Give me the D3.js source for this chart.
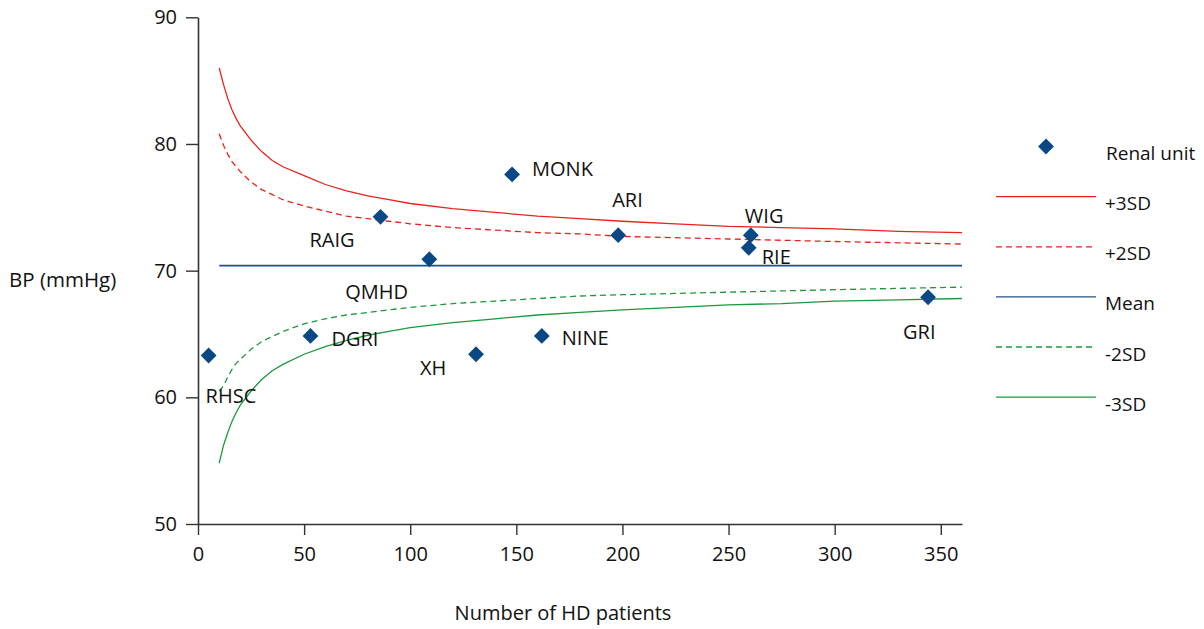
<!DOCTYPE html>
<html><head><meta charset="utf-8">
<script src="https://cdn.jsdelivr.net/npm/d3@7"></script>
<style>
body{margin:0;background:#fff;}
svg{display:block;font-family:"Open Sans",sans-serif;}
</style></head><body>
<svg id="c" width="1204" height="629"></svg>
<script>
// ---- data ----
const units = ["RHSC","DGRI","RAIG","QMHD","XH","MONK","NINE","ARI","WIG","RIE","GRI"];
const patients = [5, 53, 86, 109, 131, 148, 162, 198, 260.5, 259.5, 344];
const bp = [63.3, 64.85, 74.25, 70.9, 63.4, 77.6, 64.85, 72.8, 72.8, 71.8, 67.9];
const meanBP = 70.4;
const nGrid = [10,12,14,16,18,20,25,30,35,40,50,60,70,80,90,100,120,140,160,180,200,225,250,275,300,330,360];
const plus3 = [86.0,84.7,83.6,82.7,82.0,81.4,80.3,79.4,78.7,78.2,77.5,76.8,76.3,75.9,75.6,75.3,74.9,74.6,74.3,74.1,73.9,73.7,73.5,73.4,73.3,73.1,73.0];
const plus2 = [80.8,79.9,79.2,78.6,78.2,77.8,77.0,76.4,76.0,75.6,75.1,74.7,74.3,74.1,73.9,73.7,73.4,73.2,73.0,72.9,72.7,72.6,72.5,72.4,72.3,72.2,72.1];
const minus2 = [60.5,60.9,61.6,62.2,62.7,63.0,63.8,64.4,64.8,65.2,65.8,66.2,66.5,66.7,66.9,67.1,67.4,67.6,67.8,68.0,68.1,68.2,68.3,68.4,68.5,68.6,68.7];
const minus3 = [54.8,56.2,57.2,58.1,58.8,59.4,60.5,61.4,62.1,62.6,63.4,64.0,64.5,64.9,65.2,65.5,65.9,66.2,66.5,66.7,66.9,67.1,67.3,67.4,67.6,67.7,67.8];
const xTicks = [0,50,100,150,200,250,300,350];
const yTicks = [50,60,70,80,90];
const legendLabels = ["Renal unit","+3SD","+2SD","Mean","-2SD","-3SD"];

// ---- layout (not data) ----
const labelOffsets = [[-3,47],[21,10],[-71,30],[-84,40],[-56,21],[20,2],[20,9],[-6,-28],[-6,-12],[13,16],[-25,42]];
const RED="#e8231b", GREEN="#1a9a3c", BLUE="#24518a", DIAM="#0a4785", AX="#333";

const svg = d3.select("#c");
const x = d3.scaleLinear().domain([0,360]).range([198,962]);
const y = d3.scaleLinear().domain([50,90]).range([524,17.3]);

// axes
const xa = svg.append("g").attr("transform","translate(0,524)")
  .call(d3.axisBottom(x).tickValues(xTicks).tickSize(11).tickPadding(12).tickSizeOuter(0));
const ya = svg.append("g").attr("transform","translate(198,0)")
  .call(d3.axisLeft(y).tickValues(yTicks).tickSize(12).tickPadding(9).tickSizeOuter(0));
[xa,ya].forEach(a=>{
  a.select(".domain").attr("stroke",AX).attr("stroke-width",1.6);
  a.selectAll(".tick line").attr("stroke",AX).attr("stroke-width",1.4);
  a.selectAll(".tick text").attr("fill","#111").style("font-size","20px").style("font-family","'Open Sans',sans-serif");
});

// axis titles
svg.append("text").attr("x",563).attr("y",620).attr("text-anchor","middle")
  .style("font-size","20px").attr("fill","#111").text("Number of HD patients");
svg.append("text").attr("x",9).attr("y",287)
  .style("font-size","20.5px").attr("fill","#111").text("BP (mmHg)");

// lines
const line = d3.line().x((d,i)=>x(nGrid[i])).y(d=>y(d));
function drawLine(arr,color,dash){
  svg.append("path").datum(arr).attr("d",line).attr("fill","none")
    .attr("stroke",color).attr("stroke-width",1.3).attr("stroke-dasharray",dash||null);
}
drawLine(plus3,RED);
drawLine(plus2,RED,"6,4");
drawLine(minus2,GREEN,"6,4");
drawLine(minus3,GREEN);
svg.append("line").attr("x1",x(nGrid[0])).attr("x2",x(nGrid[nGrid.length-1]))
  .attr("y1",y(meanBP)).attr("y2",y(meanBP)).attr("stroke",BLUE).attr("stroke-width",1.6);

// points
const sym = d3.symbol().type(d3.symbolSquare).size(125);
units.forEach((u,i)=>{
  const px=x(patients[i]), py=y(bp[i]);
  svg.append("path").attr("d",sym()).attr("fill",DIAM)
    .attr("transform",`translate(${px},${py}) rotate(45)`);
  svg.append("text").attr("x",px+labelOffsets[i][0]).attr("y",py+labelOffsets[i][1])
    .style("font-size","20px").attr("fill","#111").text(u);
});

// legend
const lg = svg.append("g");
lg.append("path").attr("d",sym()).attr("fill",DIAM).attr("transform","translate(1046,146.5) rotate(45)");
lg.append("text").attr("x",1106).attr("y",160).style("font-size","19px").attr("fill","#111").text(legendLabels[0]);
const legStyles=[[RED,null],[RED,"6,4"],[BLUE,null],[GREEN,"6,4"],[GREEN,null]];
legStyles.forEach((s,i)=>{
  const ly=196.7+i*50.1;
  lg.append("line").attr("x1",996).attr("x2",1096).attr("y1",ly).attr("y2",ly)
    .attr("stroke",s[0]).attr("stroke-width",1.3).attr("stroke-dasharray",s[1]);
  lg.append("text").attr("x",1105).attr("y",ly+13.5).style("font-size","19px").attr("fill","#111").text(legendLabels[i+1]);
});
</script>
</body></html>
